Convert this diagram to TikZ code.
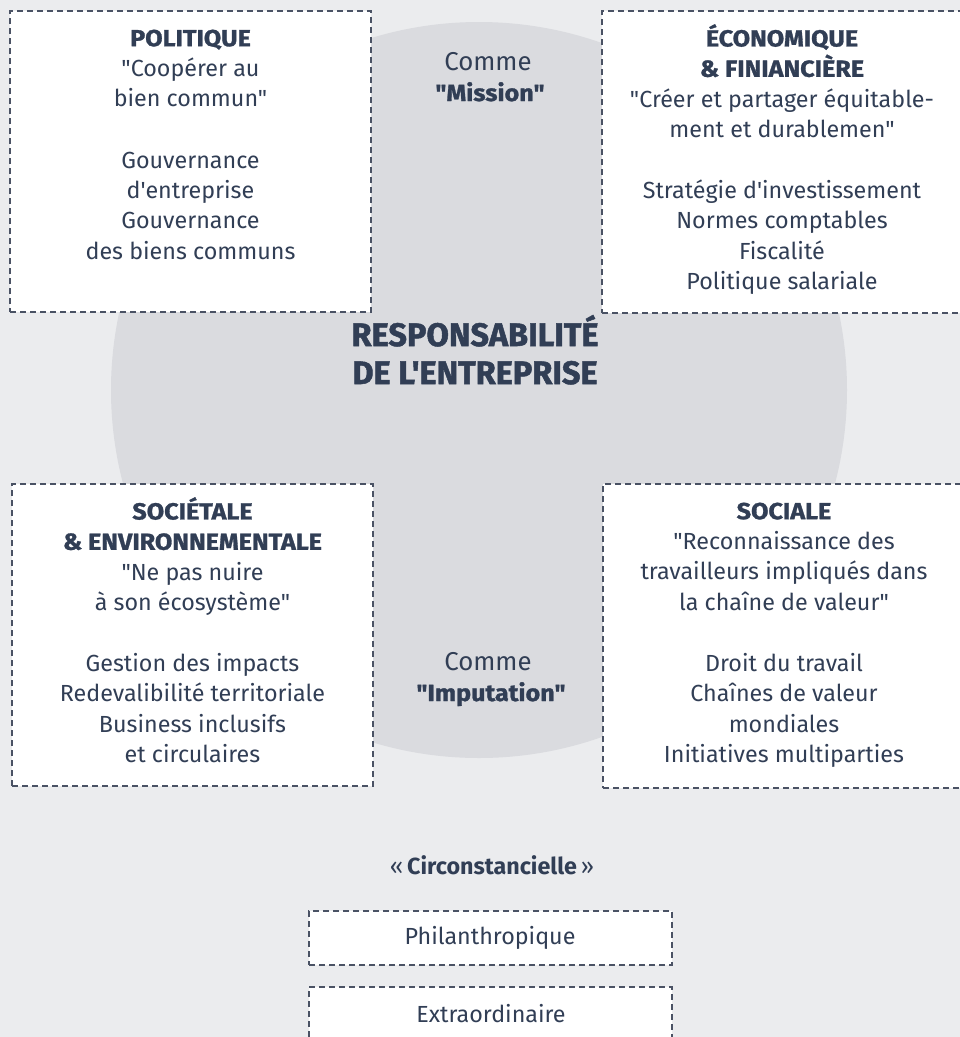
\documentclass[tikz,border=0pt]{standalone}
\usepackage{fontspec}
\setmainfont{Fira Sans}[Ligatures=TeXOff]
\definecolor{bgcol}{HTML}{EBECEE}
\definecolor{diskcol}{HTML}{DADBDF}
\definecolor{ink}{HTML}{313E55}
\definecolor{dashcol}{HTML}{4A5264}
\newcommand\sq{\char"0027\relax}
\newcommand\dq{\char"0022\relax}
\newcommand\firstline{\rule{0pt}{22pt}}
% heavy, slightly wide bold used for box headings and the two modes
\newcommand\hvy[1]{{\bfseries\addfontfeature{FakeStretch=1.08,FakeBold=1.2}#1}}
\begin{document}
\begin{tikzpicture}[x=1pt,y=-1pt,
  frame/.style={draw=dashcol, fill=white, line width=1.2pt,
    dash pattern=on 6pt off 4pt, inner sep=0, rectangle},
  txt/.style={font=\fontsize{23.3}{30.3}\selectfont, align=center,
    inner sep=0, text=ink},
  heading/.style={font=\fontsize{32.5}{38}\selectfont\bfseries\addfontfeature{FakeBold=1.5},
    align=center, inner sep=0, text=ink}]
\useasboundingbox (0,0) rectangle (960,1037);
\fill[bgcol] (0,0) rectangle (960,1037);

% central disk
\node[circle, fill=diskcol, minimum size=736pt, inner sep=0] (disk) at (479,390) {};

% the four dimension boxes
\node[frame, minimum width=361pt, minimum height=301pt] (polbox) at (190.5,161.5) {};
\node[frame, minimum width=360pt, minimum height=302pt] (ecobox) at (782,162) {};
\node[frame, minimum width=361pt, minimum height=302pt] (socbox) at (192.5,635) {};
\node[frame, minimum width=362pt, minimum height=304pt] (solbox) at (784,636) {};

\node[txt, anchor=north] (poltxt) at (190.5,24) {\firstline\hvy{POLITIQUE}\\
  \dq Coopérer au\\ bien commun\dq\\[31pt]
  Gouvernance\\ d\sq entreprise\\ Gouvernance\\ des biens communs};

\node[txt, anchor=north] (ecotxt) at (782,24) {\firstline\hvy{ÉCONOMIQUE}\\
  \hvy{\& FINIANCIÈRE}\\
  \dq Créer et partager équitable-\\ ment et durablemen\dq\\[31pt]
  Stratégie d\sq investissement\\ Normes comptables\\ Fiscalité\\ Politique salariale};

\node[txt, anchor=north] (soctxt) at (192.5,497) {\firstline\hvy{SOCIÉTALE}\\
  \hvy{\& ENVIRONNEMENTALE}\\
  \dq Ne pas nuire\\ à son écosystème\dq\\[31pt]
  Gestion des impacts\\ Redevalibilité territoriale\\ Business inclusifs\\ et circulaires};

\node[txt, anchor=north] (soltxt) at (784,497) {\firstline\hvy{SOCIALE}\\
  \dq Reconnaissance des\\ travailleurs impliqués dans\\ la chaîne de valeur\dq\\[31pt]
  Droit du travail\\ Chaînes de valeur\\ mondiales\\ Initiatives multiparties};

% centre title and the two modes
\node[heading, anchor=base] (title) at (475,384) {RESPONSABILITÉ\\ DE L\sq ENTREPRISE};

\node[txt, anchor=base, font=\fontsize{25.8}{30}\selectfont] (mission1) at (488,70) {Comme};
\node[txt, anchor=base] (mission2) at (490,101) {\hvy{\dq Mission\dq}};
\node[txt, anchor=base, font=\fontsize{25.8}{30}\selectfont] (imput1) at (488,670) {Comme};
\node[txt, anchor=base] (imput2) at (491,701) {\hvy{\dq Imputation\dq}};

% circumstantial responsibility
\node[txt, anchor=base] (circ) at (492,874) {«\,\textbf{Circonstancielle}\,»};
\node[frame, minimum width=363pt, minimum height=54pt] (philbox) at (490.5,938) {};
\node[txt, anchor=base] (phil) at (490,944) {Philanthropique};
\node[frame, minimum width=363pt, minimum height=60pt] (extrabox) at (490.5,1017) {};
\node[txt, anchor=base] (extra) at (491,1022) {Extraordinaire};
\end{tikzpicture}
\end{document}
